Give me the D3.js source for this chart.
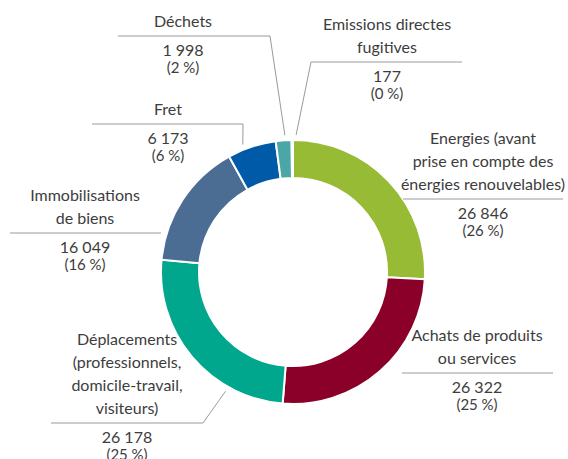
<!DOCTYPE html>
<html>
<head>
<meta charset="utf-8">
<script src="https://cdn.jsdelivr.net/npm/d3@7"></script>
<style>
  html, body { margin: 0; padding: 0; background: #fff; }
  svg { display: block; }
</style>
</head>
<body>
<div id="chart"></div>
<script>
// données
const categories = [
  'Energies (avant prise en compte des énergies renouvelables)',
  'Achats de produits ou services',
  'Déplacements (professionnels, domicile-travail, visiteurs)',
  'Immobilisations de biens',
  'Fret',
  'Déchets',
  'Emissions directes fugitives'
]
const values = [26846, 26322, 26178, 16049, 6173, 1998, 177]
const percents = [26, 25, 25, 16, 6, 2, 0]
const labelLines = [
  ['Energies (avant', 'prise en compte des', 'énergies renouvelables)'],
  ['Achats de produits', 'ou services'],
  ['Déplacements', '(professionnels,', 'domicile-travail,', 'visiteurs)'],
  ['Immobilisations', 'de biens'],
  ['Fret'],
  ['Déchets'],
  ['Emissions directes', 'fugitives']
]
const colors = ['#97bb35', '#8b0029', '#00a78d', '#4b6d93', '#005aa8', '#4ba6a6', '#b9d3de']

// mise en page des étiquettes (x centre, y du trait, x1/x2 du trait, coude, angle de la pointe)
const labelLayout = [
  { cx: 483, ly: 199, x1: 403, x2: 563, elbow: null },
  { cx: 477, ly: 373, x1: 402, x2: 553, elbow: null },
  { cx: 127, ly: 423, x1: 51, x2: 203, elbow: 'right', tip: 209.5 },
  { cx: 85, ly: 233, x1: 10, x2: 161, elbow: null },
  { cx: 168, ly: 124, x1: 92, x2: 243, elbow: 'right', tip: 338.5 },
  { cx: 183, ly: 36, x1: 118, x2: 270, elbow: 'right', tip: 356.6 },
  { cx: 387, ly: 62, x1: 311, x2: 462, elbow: 'left', tip: 1.3 }
]

const width = 568
const height = 459
const cx = 293
const cy = 272
const outerR = 132
const innerR = 94
const lineH = 23
const textColor = '#3d3d3d'

const fmt = v => d3.format(',')(v).replace(/,/g, '\u202f')

const svg = d3.select('#chart')
  .append('svg')
  .attr('width', width)
  .attr('height', height)
  .attr('viewBox', [0, 0, width, height])
  .style('font-family', 'Lato, "Open Sans", sans-serif')

const pie = d3.pie().sort(null).value(d => d)
const arcs = pie(values)
const arc = d3.arc().innerRadius(innerR).outerRadius(outerR)

const g = svg.append('g').attr('transform', `translate(${cx},${cy})`)

g.selectAll('path')
  .data(arcs)
  .join('path')
  .attr('d', arc)
  .attr('fill', (d, i) => colors[i])
  .attr('stroke', '#fff')
  .attr('stroke-width', 2)

// traits des étiquettes
const lines = svg.append('g')
  .attr('stroke', '#9a9a9a')
  .attr('stroke-width', 1)
  .attr('fill', 'none')

labelLayout.forEach((l, i) => {
  let pts = [[l.x1, l.ly], [l.x2, l.ly]]
  if (l.elbow) {
    const a = l.tip * Math.PI / 180
    const tip = [cx + 137 * Math.sin(a), cy - 137 * Math.cos(a)]
    if (l.elbow === 'right') pts.push(tip)
    else pts.unshift(tip)
  }
  lines.append('path').attr('d', d3.line()(pts))
})

// textes
const labels = svg.append('g')
  .attr('fill', textColor)
  .attr('text-anchor', 'middle')
  .style('font-size', '16px')

labelLayout.forEach((l, i) => {
  const ls = labelLines[i]
  ls.forEach((t, j) => {
    labels.append('text')
      .attr('x', l.cx)
      .attr('y', l.ly - 9 - (ls.length - 1 - j) * lineH)
      .text(t)
  })
  labels.append('text')
    .attr('x', l.cx)
    .attr('y', l.ly + 20)
    .text(fmt(values[i]))
  labels.append('text')
    .attr('x', l.cx)
    .attr('y', l.ly + 37)
    .style('font-size', '15px')
    .text(`(${percents[i]}\u202f%)`)
})
</script>
</body>
</html>
